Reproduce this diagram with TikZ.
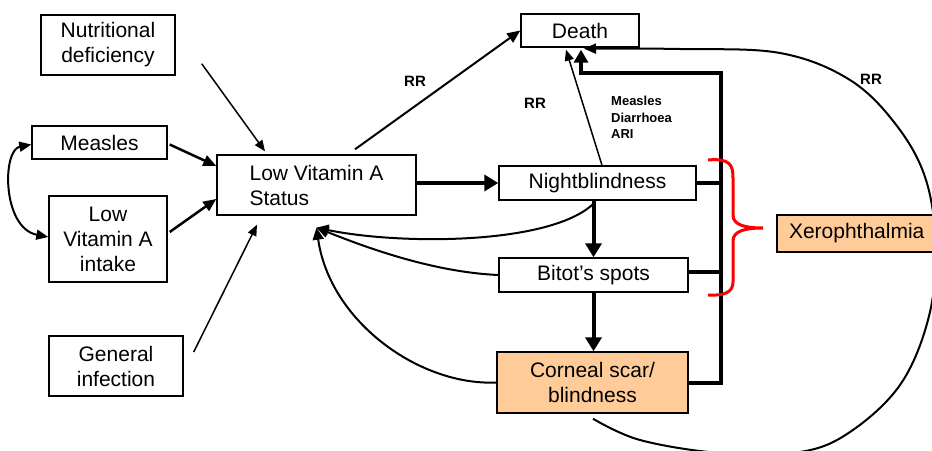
\documentclass[tikz,border=0pt]{standalone}
\usepackage{fontspec}
\setmainfont{Liberation Sans}
\usetikzlibrary{arrows.meta,calc}
\definecolor{peach}{HTML}{FFCC99}
\begin{document}
\begin{tikzpicture}[x=1pt,y=-1pt,
  box/.style={draw=black,line width=1.4pt,inner sep=0pt,align=center,font=\fontsize{21}{25}\selectfont},
  lbl/.style={inner sep=0pt,font=\bfseries\fontsize{13}{16.5}\selectfont,align=left},
  rrlbl/.style={inner sep=0pt,font=\bfseries\fontsize{15}{18}\selectfont},
  thinarr/.style={line width=1.5pt,-{Triangle[length=11pt,width=9pt]}},
  medarr/.style={line width=2.5pt,-{Triangle[length=13pt,width=11pt]}},
  thickarr/.style={line width=4pt,-{Triangle[length=14pt,width=16pt]}},
  bus/.style={line width=4pt},
  retarr/.style={line width=2pt,-{Triangle[length=12pt,width=11pt]}},
]
\useasboundingbox (0,0) rectangle (932,450);

% boxes
\node[box,minimum width=134pt,minimum height=60pt] (nut) at (108,45) {Nutritional\\deficiency};
\node[box,minimum width=135pt,minimum height=33pt] (mea) at (99.5,142.5) {Measles};
\node[box,minimum width=118pt,minimum height=86pt] (lvi) at (108,239) {Low\\Vitamin A\\intake};
\node[box,minimum width=134pt,minimum height=60pt] (gen) at (116,366) {General\\infection};
\node[box,align=left,minimum width=199pt,minimum height=60pt] (lvs) at (316.5,185) {Low Vitamin A\\Status};
\node[box,minimum width=118pt,minimum height=33pt] (death) at (580,30.5) {Death};
\node[box,minimum width=197pt,minimum height=34pt] (nb) at (597.5,183) {Nightblindness};
\node[box,minimum width=189pt,minimum height=34pt] (bit) at (593.5,275) {Bitot’s spots};
\node[box,fill=peach,minimum width=191pt,minimum height=61pt] (cor) at (592.5,382.5) {Corneal scar/\\blindness};
\node[box,fill=peach,minimum width=160pt,minimum height=37pt,text width=136pt,align=left] (xer) at (857,233.5) {Xerophthalmia};

% labels
\node[rrlbl] (rr1) at (415,81) {RR};
\node[rrlbl] (rr2) at (535,103) {RR};
\node[rrlbl] (rr3) at (871,79) {RR};
\node[lbl,anchor=west] (inf) at (611,117.5) {Measles\\Diarrhoea\\ARI};

% causes into status
\coordinate (nutS) at ($(nut.south east)+(26,-12)$);
\draw[thinarr] (nutS) -- ($(lvs.north)+(-51.5,-3)$);
\draw[medarr] ($(mea.east)+(2,2)$) -- ($(lvs.west)+(0,-19)$);
\draw[medarr] ($(lvi.east)+(2,-7)$) -- ($(lvs.west)+(0,14)$);
\coordinate (genS) at ($(gen.east)+(10,-14)$);
\draw[thinarr] (genS) -- ($(lvs.south)+(-59.5,9)$);
\draw[line width=2pt,{Triangle[length=12pt,width=10pt]}-{Triangle[length=12pt,width=10pt]}]
  ($(mea.west)+(0,2)$) .. controls (2,150) and (2,228) .. ($(lvi.west)+(0,-2)$);

% status to death and nightblindness
\draw[line width=2pt,-{Triangle[length=13pt,width=11pt]}] ($(lvs.north)+(38.5,-5)$) -- (death.west);
\draw[thickarr] (lvs.east |- nb.west) -- (nb.west);
\draw[thinarr] ($(nb.north)+(4.5,0)$) -- ($(death.south)+(-14,2)$);

% progression
\draw[thickarr] (bit.north |- nb.south) -- (bit.north);
\draw[thickarr] (bit.south) -- (bit.south |- cor.north);

% bus to death
\coordinate (bustop) at (721,73);
\draw[bus] (nb.east) -- (nb.east -| bustop);
\draw[bus] ($(bit.east)+(0,-3)$) -- ($(bit.east -| bustop)+(0,-3)$);
\draw[bus,-{Triangle[length=13pt,width=14pt]}] (cor.east) -| (bustop) -| ($(death.south)+(1,2)$);

% returns to status
\coordinate (ret) at ($(lvs.south)+(0,12)$);
\draw[retarr] ($(nb.south)+(-4,3)$) .. controls (550,245) and (400,245) .. (ret);
\draw[retarr] (bit.west) .. controls (430,272) and (360,245) .. (ret);
\draw[retarr] (cor.west) .. controls (420,386) and (330,322) .. (ret);

% big loop from corneal scar to death
\coordinate (bigS) at ($(cor.south)+(0.5,5)$);
\coordinate (bigE) at ($(death.south)+(4,1)$);
\draw[line width=2pt,-{Triangle[length=12pt,width=10pt]}] plot[smooth,tension=0.6] coordinates {(bigS) (640,440) (720,453) (800,452) (850,432) (900,385) (928,320) (936,250) (926,180) (897,126) (850,80) (780,53) (680,49) (bigE)};

% red brace
\draw[red,line width=3pt] (708,160) .. controls (730,158) and (733,165) .. (733,178) -- (733,215)
  .. controls (733,225) and (745,228) .. (763,228)
  .. controls (745,228) and (733,231) .. (733,241) -- (733,282)
  .. controls (733,292) and (725,296) .. (708,295);
\end{tikzpicture}
\end{document}
